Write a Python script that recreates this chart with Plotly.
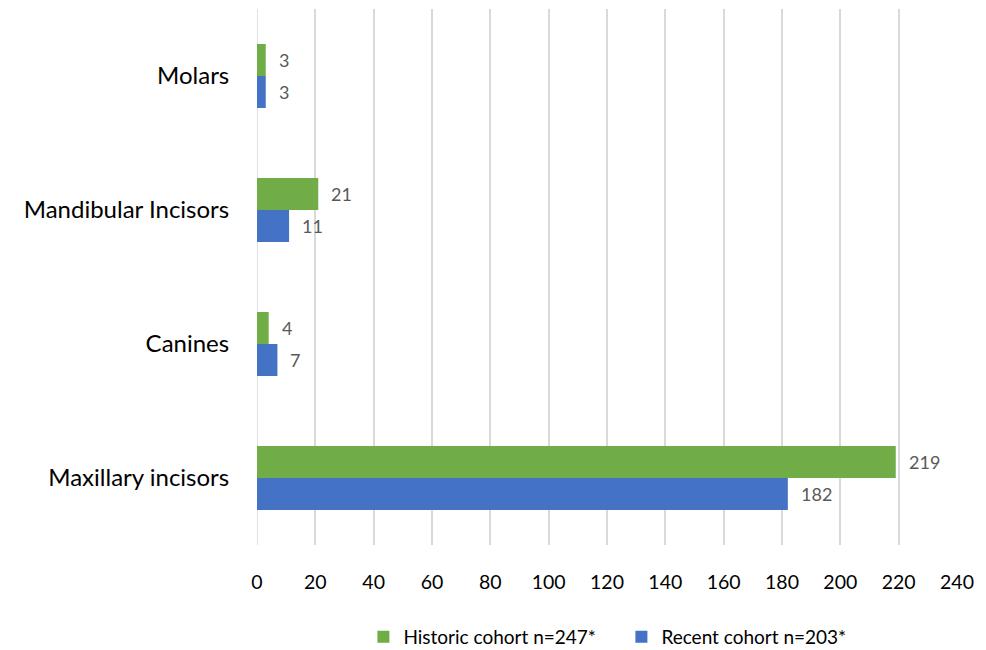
import plotly.graph_objects as go

categories = ["Maxillary incisors", "Canines", "Mandibular Incisors", "Molars"]
historic = [219, 4, 21, 3]
recent = [182, 7, 11, 3]
historic_name = "Historic cohort n=247*"
recent_name = "Recent cohort n=203*"
x_ticks = list(range(0, 241, 20))

GREEN = "#70AD47"
BLUE = "#4472C4"
FONT = "Lato, 'Open Sans', sans-serif"
BARGAP = 0.522

fig = go.Figure()
fig.add_trace(go.Bar(y=categories, x=recent, orientation="h", name=recent_name,
                     marker=dict(color=BLUE, line=dict(width=0)), legendrank=2))
fig.add_trace(go.Bar(y=categories, x=historic, orientation="h", name=historic_name,
                     marker=dict(color=GREEN, line=dict(width=0)), legendrank=1))

# value labels just past the end of each bar; each bar is half the group width
half = (1 - BARGAP) / 4
for vals, off in ((recent, -half), (historic, half)):
    for i, v in enumerate(vals):
        fig.add_annotation(x=v, y=i + off, xref="x", yref="y", text=str(v),
                           showarrow=False, xanchor="left", yanchor="middle", xshift=11,
                           font=dict(size=18, color="#595959", family=FONT))

fig.update_layout(
    width=986, height=650,
    margin=dict(l=257, r=29, t=9, b=105),
    paper_bgcolor="white", plot_bgcolor="white",
    barmode="group", bargap=BARGAP, bargroupgap=0,
    font=dict(family=FONT, color="#000000"),
    showlegend=True,
    legend=dict(orientation="h", x=0.152, xanchor="left",
                yref="container", y=0.02, yanchor="middle",
                font=dict(size=19, color="#000000"), itemwidth=30,
                entrywidth=213, tracegroupgap=0),
    xaxis=dict(range=[0, 240], tickvals=x_ticks, showgrid=True, gridcolor="#D9D9D9",
               gridwidth=1.5, zeroline=False, showline=False,
               ticks="outside", ticklen=20, tickcolor="rgba(0,0,0,0)",
               tickfont=dict(size=19.5, color="#000000")),
    yaxis=dict(showgrid=False, zeroline=False, showline=False,
               ticks="outside", ticklen=22, tickcolor="rgba(0,0,0,0)",
               tickfont=dict(size=24, color="#000000")),
)
fig.add_shape(type="line", xref="x", yref="paper", x0=0, x1=0, y0=0, y1=1,
              line=dict(color="#D9D9D9", width=1.5), layer="below")

fig.write_html("out.html")
